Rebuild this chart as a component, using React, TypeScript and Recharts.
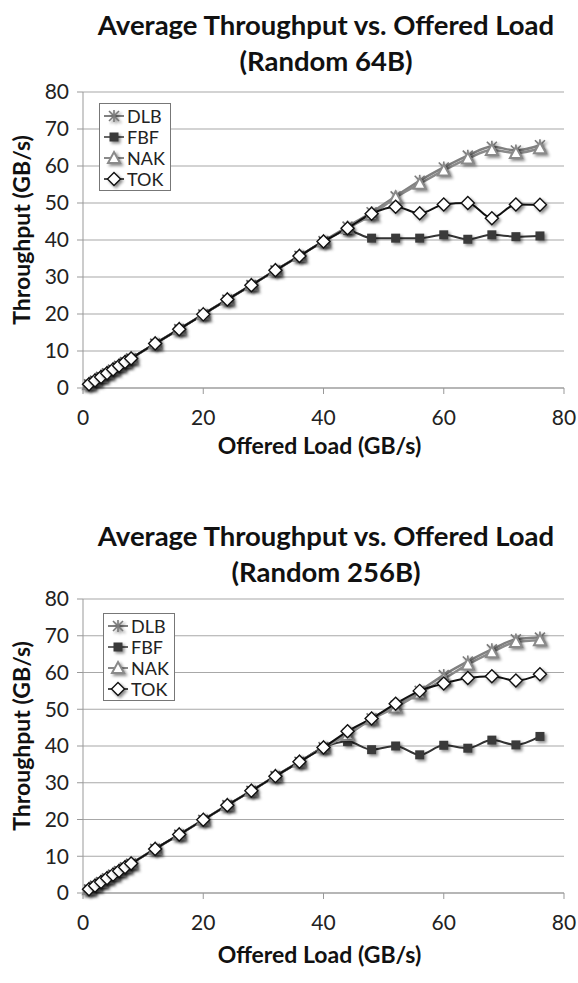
import { LineChart, Line, XAxis, YAxis, CartesianGrid, Legend, Label } from "recharts";

// offered load (GB/s), shared by both panels
const load = [1, 2, 3, 4, 5, 6, 7, 8, 12, 16, 20, 24, 28, 32, 36, 40, 44, 48, 52, 56, 60, 64, 68, 72, 76];
const xTicks = [0, 20, 40, 60, 80];
const yTicks = [0, 10, 20, 30, 40, 50, 60, 70, 80];

// Random 64B
const dlb64 = [1, 2, 3, 4, 5, 6, 7, 8, 12, 15.9, 19.9, 23.9, 27.8, 31.8, 35.7, 39.7, 43.6, 47.5, 51.8, 56.0, 59.6, 62.8, 65.2, 64.2, 65.6];
const fbf64 = [1, 2, 3, 4, 5, 6, 7, 8, 12, 15.9, 19.9, 23.9, 27.8, 31.8, 35.7, 39.6, 42.6, 40.5, 40.5, 40.5, 41.4, 40.2, 41.4, 40.9, 41.1];
const nak64 = [1, 2, 3, 4, 5, 6, 7, 8, 12, 15.9, 19.9, 23.9, 27.8, 31.8, 35.7, 39.6, 43.2, 46.8, 51.5, 55.2, 58.8, 62.0, 64.3, 63.5, 64.8];
const tok64 = [1, 2, 3, 4, 5, 6, 7, 8, 12, 15.9, 19.9, 23.9, 27.8, 31.8, 35.7, 39.6, 43.2, 47.1, 49.0, 47.2, 49.6, 50.0, 45.9, 49.6, 49.5];

// Random 256B
const dlb256 = [1, 2, 3, 4, 5, 6, 7, 8, 12, 15.9, 19.9, 23.9, 27.8, 31.8, 35.7, 39.7, 43.3, 47.5, 51.0, 55.0, 59.3, 63.0, 66.3, 69.0, 69.5];
const fbf256 = [1, 2, 3, 4, 5, 6, 7, 8, 12, 15.9, 19.9, 23.9, 27.8, 31.8, 35.7, 39.6, 41.2, 39.0, 40.0, 37.6, 40.2, 39.4, 41.6, 40.3, 42.6];
const nak256 = [1, 2, 3, 4, 5, 6, 7, 8, 12, 15.9, 19.9, 23.9, 27.8, 31.8, 35.7, 39.6, 43.0, 47.3, 50.5, 54.3, 58.2, 62.2, 65.5, 68.3, 68.8];
const tok256 = [1, 2, 3, 4, 5, 6, 7, 8, 12, 15.9, 19.9, 23.9, 27.8, 31.8, 35.7, 39.6, 44.0, 47.5, 51.5, 55.0, 57.0, 58.5, 59.0, 57.8, 59.5];

const FONT = "Lato, 'Open Sans', sans-serif";
const shadow = { filter: "drop-shadow(2px 2px 1.5px rgba(0,0,0,0.45))" };

type Marker = "star" | "square" | "triangle" | "diamond";

function MarkerShape({ kind, cx, cy }: { kind: Marker; cx: number; cy: number }) {
  if (kind === "star")
    return (
      <g stroke="#7a7a7a" strokeWidth={1.6} style={shadow}>
        <line x1={cx - 5} y1={cy - 5} x2={cx + 5} y2={cy + 5} />
        <line x1={cx - 5} y1={cy + 5} x2={cx + 5} y2={cy - 5} />
        <line x1={cx} y1={cy - 6} x2={cx} y2={cy + 6} />
      </g>
    );
  if (kind === "square")
    return <rect x={cx - 4.5} y={cy - 4.5} width={9} height={9} fill="#3a3a3a" style={shadow} />;
  if (kind === "triangle")
    return (
      <polygon
        points={`${cx},${cy - 6} ${cx + 6},${cy + 5} ${cx - 6},${cy + 5}`}
        fill="#fff"
        stroke="#8a8a8a"
        strokeWidth={2}
        style={shadow}
      />
    );
  return (
    <polygon
      points={`${cx},${cy - 6.5} ${cx + 6.5},${cy} ${cx},${cy + 6.5} ${cx - 6.5},${cy}`}
      fill="#fff"
      stroke="#111"
      strokeWidth={1.4}
      style={shadow}
    />
  );
}

const series: { key: string; color: string; width: number; marker: Marker }[] = [
  { key: "DLB", color: "#808080", width: 2.5, marker: "star" },
  { key: "FBF", color: "#333333", width: 2, marker: "square" },
  { key: "NAK", color: "#8a8a8a", width: 2.5, marker: "triangle" },
  { key: "TOK", color: "#111111", width: 2, marker: "diamond" },
];

function LegendBox() {
  return (
    <div style={{ border: "1px solid #777", background: "#fff", padding: "1px 5px 1px 2px", fontFamily: FONT, fontSize: 18, color: "#222" }}>
      {series.map((s) => (
        <div key={s.key} style={{ display: "flex", alignItems: "center", height: 21 }}>
          <svg width={24} height={16} style={{ overflow: "visible" }}>
            <line x1={2} y1={8} x2={22} y2={8} stroke={s.color} strokeWidth={s.width - 0.5} />
            <MarkerShape kind={s.marker} cx={12} cy={8} />
          </svg>
          <span style={{ marginLeft: 1 }}>{s.key}</span>
        </div>
      ))}
    </div>
  );
}

interface PanelProps {
  subtitle: string;
  dlb: number[];
  fbf: number[];
  nak: number[];
  tok: number[];
  top: number;
  height: number;
  plotTop: number;
  axisHeight: number;
  titleY: number;
  xTitleDy: number;
  legendTop: number;
  legendLeft: number;
}

function Panel({ subtitle, dlb, fbf, nak, tok, top, height, plotTop, axisHeight, titleY, xTitleDy, legendTop, legendLeft }: PanelProps) {
  const data = load.map((x, i) => ({ x, DLB: dlb[i], FBF: fbf[i], NAK: nak[i], TOK: tok[i] }));
  const tick = { fontFamily: FONT, fontSize: 21, fill: "#222" };
  const titleStyle: React.CSSProperties = {
    position: "absolute",
    left: 326,
    transform: "translateX(-50%)",
    whiteSpace: "nowrap",
    fontFamily: FONT,
    fontWeight: 700,
    fontSize: 27.5,
    color: "#111",
    lineHeight: "32px",
  };
  return (
    <div style={{ position: "absolute", left: 0, top, width: 578, height }}>
      <div style={{ ...titleStyle, top: titleY - 16 }}>Average Throughput vs. Offered Load</div>
      <div style={{ ...titleStyle, top: titleY + 20 }}>({subtitle})</div>
      <LineChart width={578} height={height} data={data} margin={{ top: plotTop, right: 14, left: 0, bottom: 0 }}>
        <CartesianGrid vertical={false} stroke="#a8a8a8" strokeWidth={1.2} />
        <XAxis
          dataKey="x"
          type="number"
          domain={[0, 80]}
          ticks={xTicks}
          height={axisHeight}
          tick={tick}
          tickSize={6}
          tickMargin={16}
          stroke="#999"
        >
          <Label
            content={({ viewBox }: any) => (
              <text
                x={viewBox.x + viewBox.width / 2 - 4}
                y={viewBox.y + xTitleDy}
                textAnchor="middle"
                fontFamily={FONT}
                fontWeight={700}
                fontSize={23}
                fill="#111"
              >
                Offered Load (GB/s)
              </text>
            )}
          />
        </XAxis>
        <YAxis
          type="number"
          domain={[0, 80]}
          ticks={yTicks}
          width={83}
          tick={tick}
          tickSize={6}
          tickMargin={8}
          stroke="#999"
          interval={0}
        >
          <Label
            content={({ viewBox }: any) => {
              const cx = viewBox.x + 30;
              const cy = viewBox.y + viewBox.height / 2 - 10;
              return (
                <text
                  x={cx}
                  y={cy}
                  transform={`rotate(-90 ${cx} ${cy})`}
                  textAnchor="middle"
                  fontFamily={FONT}
                  fontWeight={700}
                  fontSize={23}
                  fill="#111"
                >
                  Throughput (GB/s)
                </text>
              );
            }}
          />
        </YAxis>
        <Legend
          layout="vertical"
          align="center"
          verticalAlign="middle"
          content={() => <LegendBox />}
          wrapperStyle={{ position: "absolute", top: legendTop, left: legendLeft, width: "auto", height: "auto" }}
        />
        {series.map((s) => (
          <Line
            key={s.key}
            dataKey={s.key}
            type="monotone"
            stroke={s.color}
            strokeWidth={s.width}
            isAnimationActive={false}
            dot={(p: any) => <MarkerShape key={`${s.key}-${p.index}`} kind={s.marker} cx={p.cx} cy={p.cy} />}
            activeDot={false}
          />
        ))}
      </LineChart>
    </div>
  );
}

export default function App() {
  return (
    <div style={{ position: "absolute", left: 0, top: 0, width: 578, height: 983, background: "#fff" }}>
      <Panel
        subtitle="Random 64B"
        dlb={dlb64}
        fbf={fbf64}
        nak={nak64}
        tok={tok64}
        top={0}
        height={491}
        plotTop={92}
        axisHeight={103}
        titleY={25}
        xTitleDy={66}
        legendTop={103}
        legendLeft={99}
      />
      <Panel
        subtitle="Random 256B"
        dlb={dlb256}
        fbf={fbf256}
        nak={nak256}
        tok={tok256}
        top={491}
        height={492}
        plotTop={108}
        axisHeight={90}
        titleY={45}
        xTitleDy={70}
        legendTop={122}
        legendLeft={103}
      />
    </div>
  );
}
